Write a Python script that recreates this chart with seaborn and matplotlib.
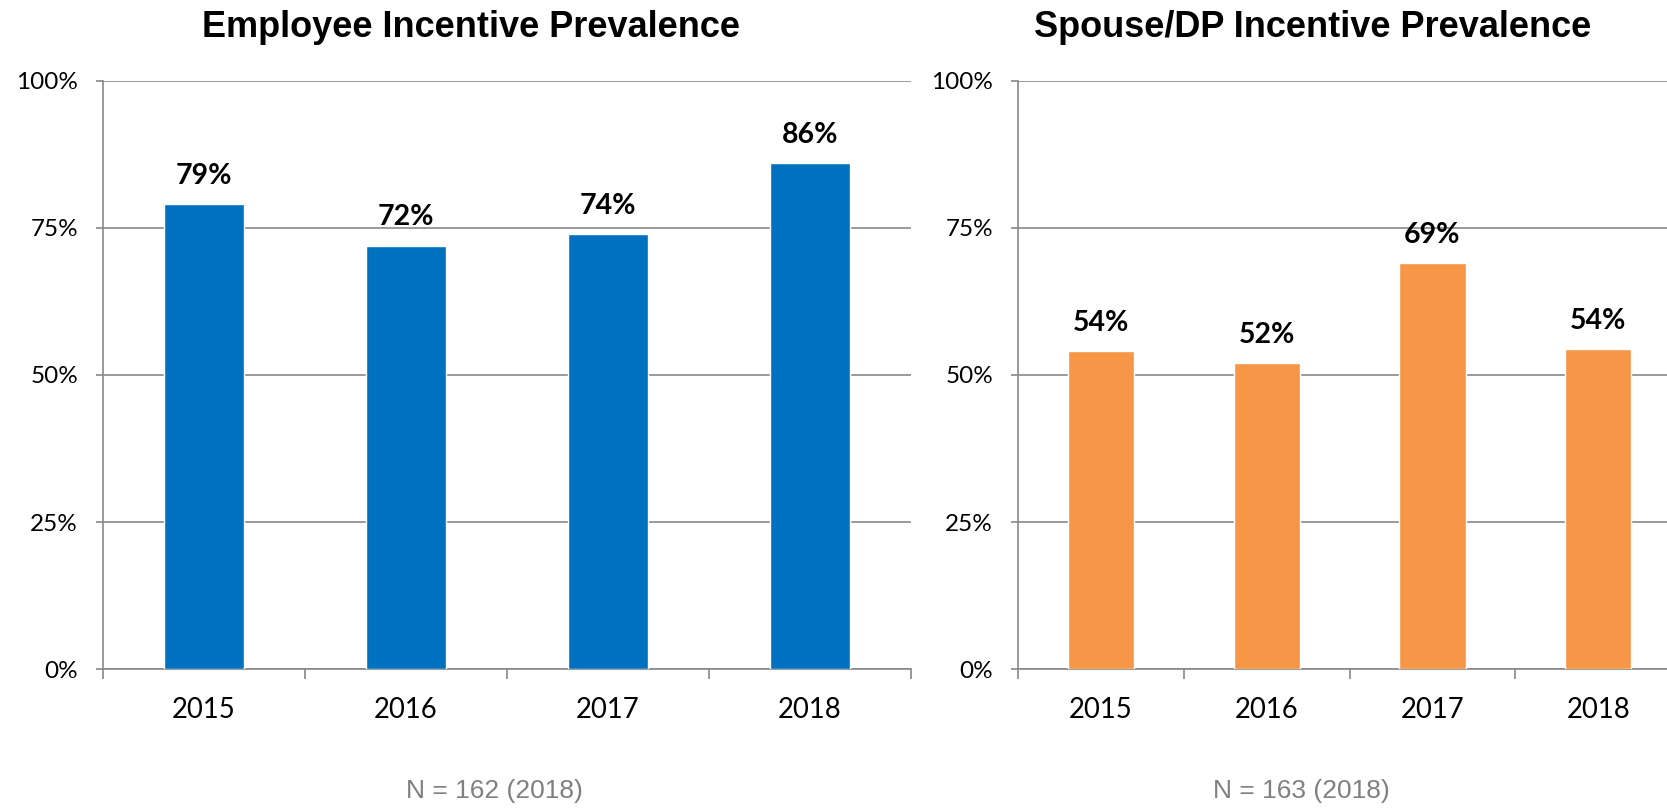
import numpy as np
import pandas as pd
import seaborn as sns
import matplotlib.pyplot as plt
from matplotlib.ticker import FixedLocator

# data
years = ["2015", "2016", "2017", "2018"]
employee_pct = [79, 72, 74, 86]
spouse_pct = [54, 52, 69, 54.4]
employee_n = "N = 162 (2018)"
spouse_n = "N = 163 (2018)"
y_ticks = [0, 25, 50, 75, 100]

blue = "#0070C0"
orange = "#F79646"
grid_grey = "#898989"

sns.set_style("white")
plt.rcParams["font.family"] = ["Lato", "DejaVu Sans"]
plt.rcParams["text.color"] = "black"

fig = plt.figure(figsize=(16.67, 8.09), dpi=100)
ax1 = fig.add_axes([0.0618, 0.173, 0.4847, 0.727])
ax2 = fig.add_axes([0.6107, 0.173, 0.3977, 0.727])  # runs off the right edge like the original


def draw_panel(ax, values, color, title, title_x, note, note_x):
    df = pd.DataFrame({"year": years, "pct": values})
    sns.barplot(data=df, x="year", y="pct", color=color, saturation=1,
                width=0.4, ax=ax, zorder=3)
    ax.set_xlim(-0.5, len(years) - 0.5)
    ax.set_ylim(0, 100)
    ax.set_yticks(y_ticks)
    ax.set_yticklabels([f"{t}%" for t in y_ticks])
    ax.set_xlabel("")
    ax.set_ylabel("")

    # excel style: gridlines, tick marks between categories
    ax.set_axisbelow(True)
    ax.grid(axis="y", color=grid_grey, linewidth=1.2)
    ax.grid(axis="x", visible=False)
    ax.xaxis.set_minor_locator(FixedLocator(np.arange(-0.5, len(years), 1.0)))
    ax.tick_params(axis="x", which="major", length=0, pad=20, labelsize=19.8,
                   labelcolor="black")
    ax.tick_params(axis="x", which="minor", length=7, width=1.2,
                   color=grid_grey, direction="out", bottom=True)
    ax.tick_params(axis="y", length=5, width=1.2, color=grid_grey,
                   direction="out", pad=13, labelsize=17.5, left=True,
                   labelcolor="black")
    for side in ["top", "right"]:
        ax.spines[side].set_visible(False)
    for side in ["left", "bottom"]:
        ax.spines[side].set_color(grid_grey)
        ax.spines[side].set_linewidth(1.2)

    for i, v in enumerate(values):
        ax.annotate(f"{v:.0f}%", (i, v), xytext=(0, 14.5),
                    textcoords="offset points", ha="center", va="baseline",
                    fontsize=20.5, fontweight="bold", color="black")

    ax.set_title(title, x=title_x, pad=31.5, fontsize=26, color="black",
                 fontweight="bold", family=["Liberation Sans", "DejaVu Sans"])
    ax.text(note_x, -0.219, note, transform=ax.transAxes, ha="center",
            va="baseline", fontsize=19, color="#808080",
            family=["Liberation Sans", "DejaVu Sans"])


draw_panel(ax1, employee_pct, blue, "Employee Incentive Prevalence", 0.455,
           employee_n, 0.485)
draw_panel(ax2, spouse_pct, orange, "Spouse/DP Incentive Prevalence", 0.445,
           spouse_n, 0.427)

fig.savefig("out.png", dpi=100)
